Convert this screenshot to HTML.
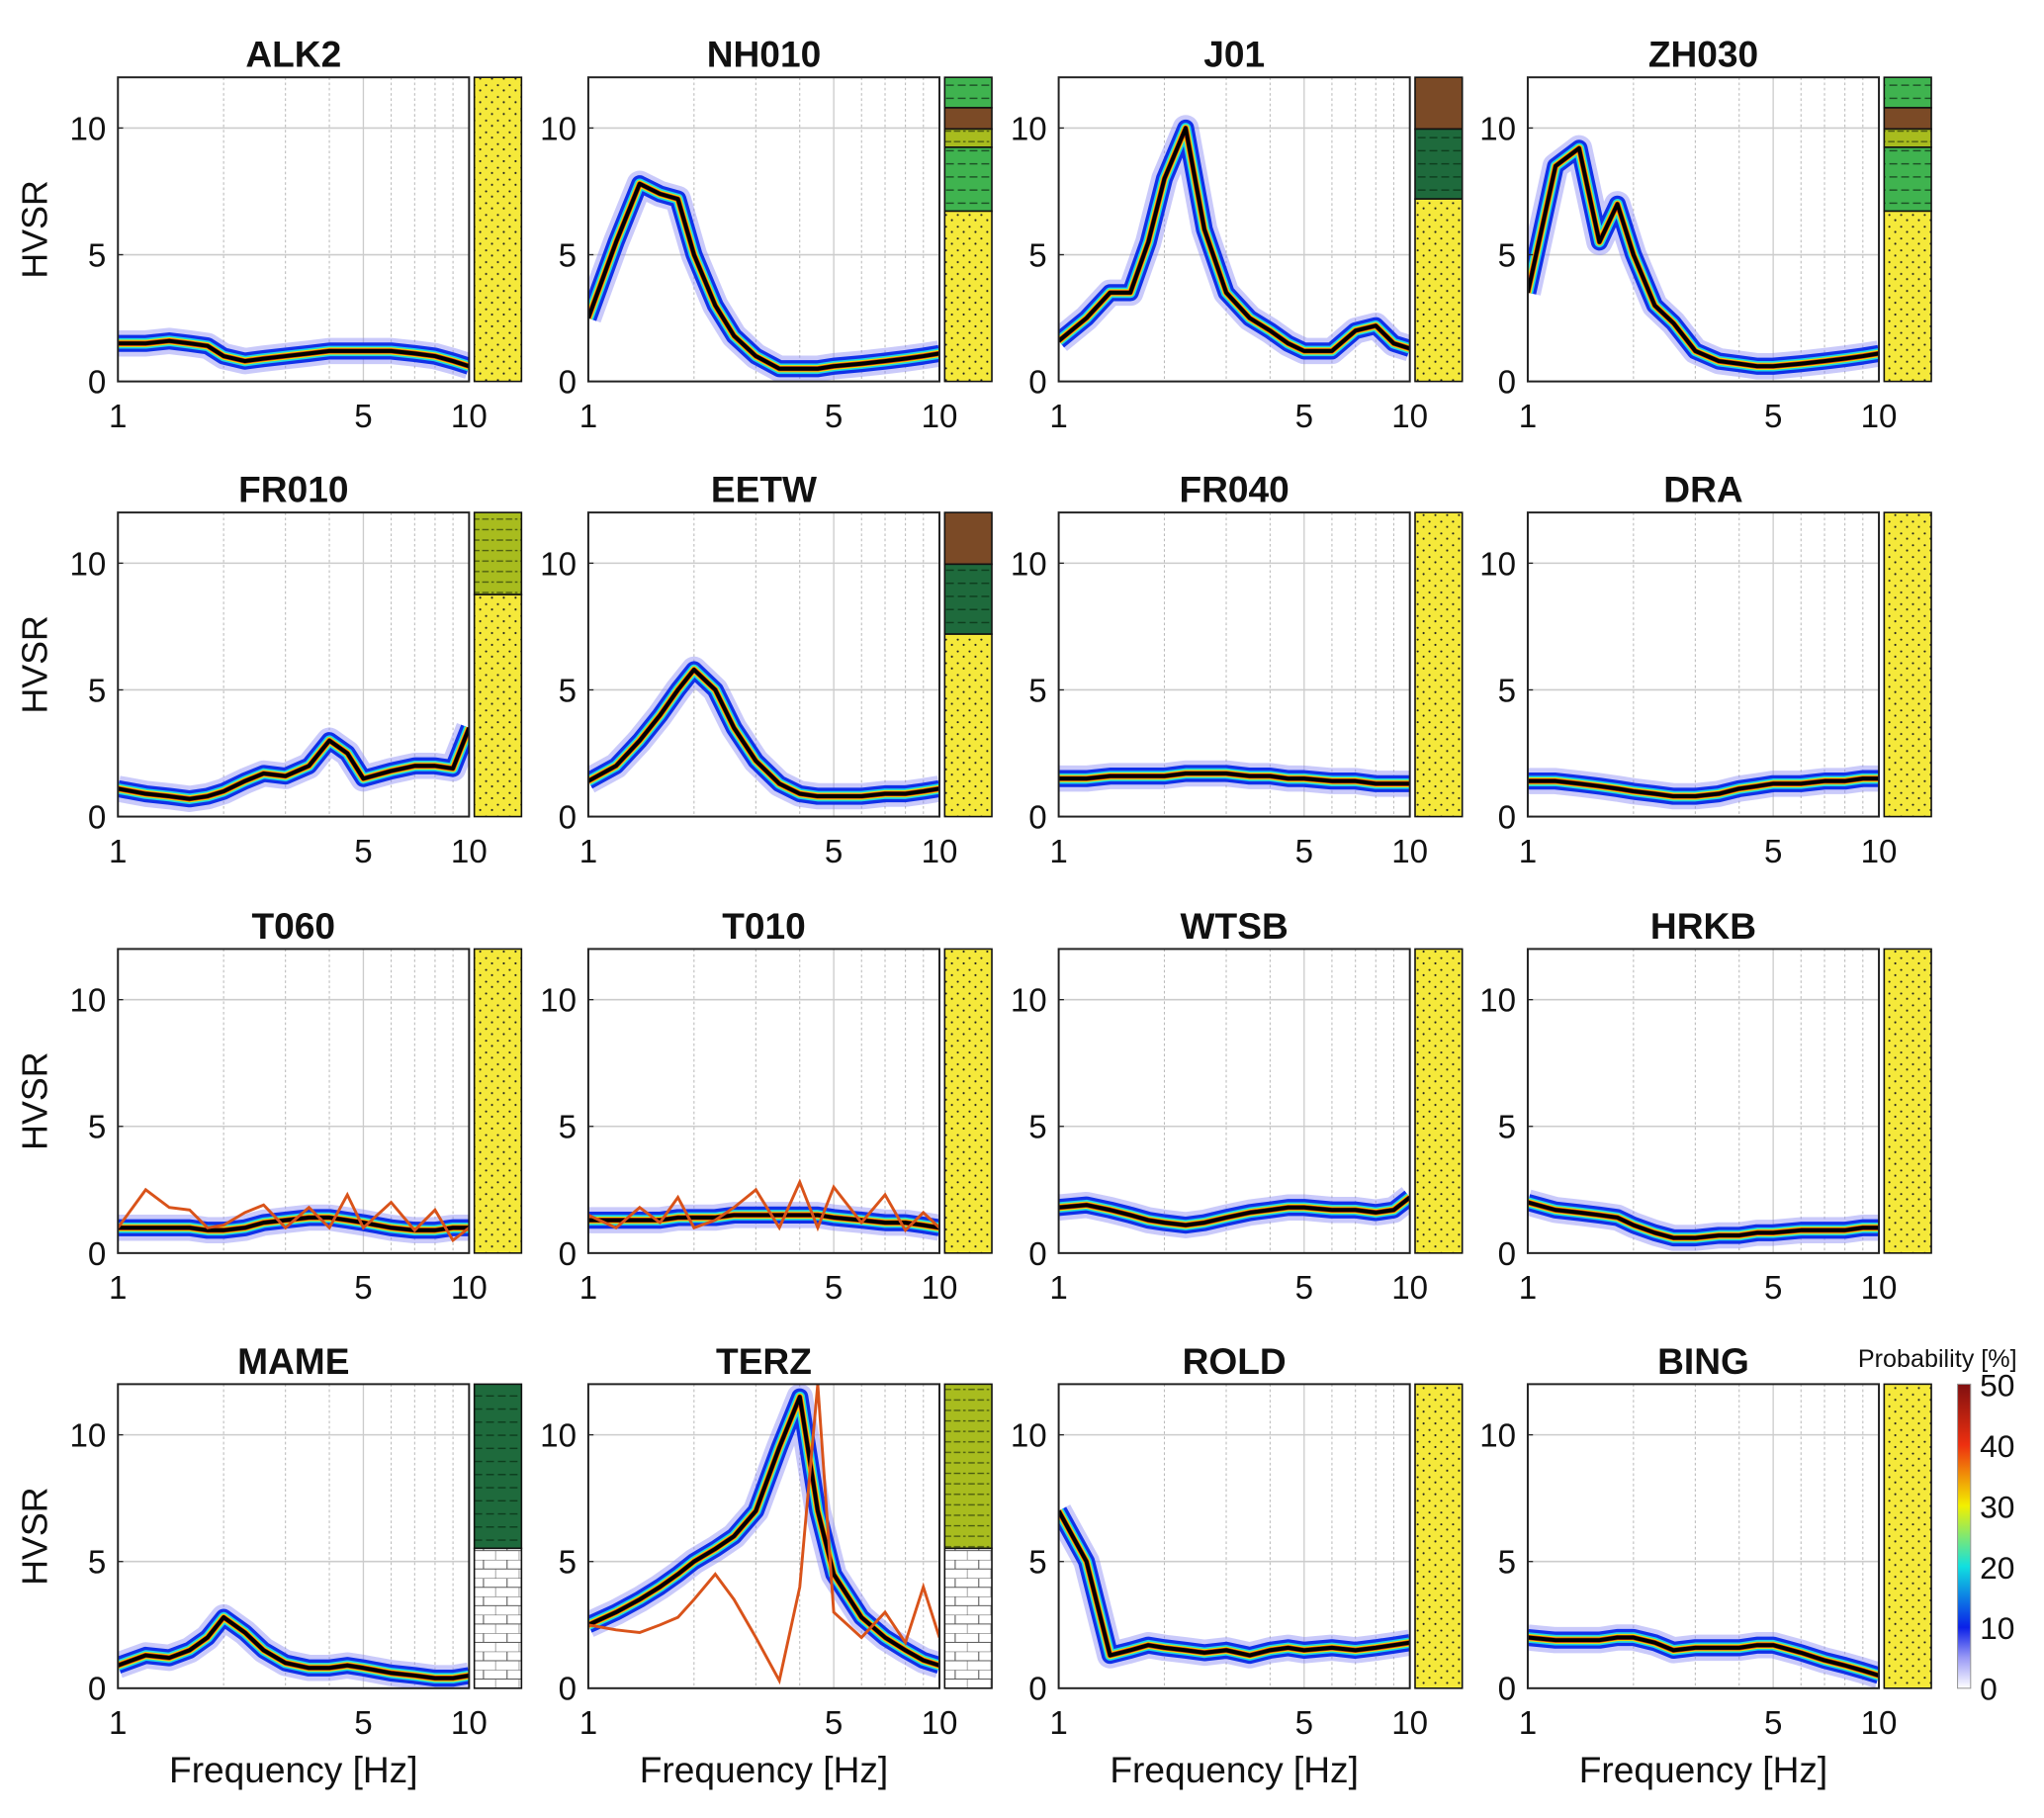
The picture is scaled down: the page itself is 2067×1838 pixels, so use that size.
<!DOCTYPE html>
<html><head><meta charset="utf-8"><style>
html,body{margin:0;padding:0;background:#fff}
svg{display:block}
text{font-family:"Liberation Sans",sans-serif;fill:#111}
</style></head><body>
<svg id="fig" width="2067" height="1838" viewBox="0 0 1560 1387" preserveAspectRatio="none" xmlns="http://www.w3.org/2000/svg">
<defs>
<pattern id="sand" width="9" height="9" patternUnits="userSpaceOnUse"><rect width="9" height="9" fill="#f5e93a"/><circle cx="2" cy="2" r="0.8" fill="#222"/><circle cx="6.5" cy="6" r="0.8" fill="#222"/></pattern>
<pattern id="clay" width="18" height="10" patternUnits="userSpaceOnUse"><rect width="18" height="10" fill="#3fb34f"/><line x1="2" y1="5" x2="8" y2="5" stroke="#1a4a22" stroke-width="1"/><line x1="11" y1="5" x2="17" y2="5" stroke="#1a4a22" stroke-width="1"/></pattern>
<pattern id="dgreen" width="18" height="10" patternUnits="userSpaceOnUse"><rect width="18" height="10" fill="#1e6a3c"/><line x1="2" y1="5" x2="8" y2="5" stroke="#0c3a1c" stroke-width="1"/><line x1="11" y1="5" x2="17" y2="5" stroke="#0c3a1c" stroke-width="1"/></pattern>
<pattern id="silt" width="18" height="8" patternUnits="userSpaceOnUse"><rect width="18" height="8" fill="#a8bc1e"/><line x1="1" y1="4" x2="17" y2="4" stroke="#4a5a10" stroke-width="1" stroke-dasharray="5,2"/></pattern>
<pattern id="peat" width="10" height="10" patternUnits="userSpaceOnUse"><rect width="10" height="10" fill="#7b4a26"/></pattern>
<pattern id="brick" width="18" height="14" patternUnits="userSpaceOnUse"><rect width="18" height="14" fill="#fff"/><line x1="0" y1="0" x2="18" y2="0" stroke="#555" stroke-width="0.8"/><line x1="0" y1="7" x2="18" y2="7" stroke="#555" stroke-width="0.8"/><line x1="9" y1="0" x2="9" y2="7" stroke="#555" stroke-width="0.8"/><line x1="0" y1="7" x2="0" y2="14" stroke="#555" stroke-width="0.8"/></pattern>
<linearGradient id="cbar" x1="0" y1="1" x2="0" y2="0">
<stop offset="0" stop-color="#ffffff"/><stop offset="0.1" stop-color="#9a9af5"/><stop offset="0.2" stop-color="#0a20e8"/><stop offset="0.4" stop-color="#10e0e0"/><stop offset="0.6" stop-color="#f2f000"/><stop offset="0.8" stop-color="#ee3010"/><stop offset="1" stop-color="#801010"/>
</linearGradient>
</defs>
</svg>
<script>
const freqs = [1,1.2,1.4,1.6,1.8,2,2.3,2.6,3,3.5,4,4.5,5,6,7,8,9,10];
const names = ["ALK2","NH010","J01","ZH030","FR010","EETW","FR040","DRA","T060","T010","WTSB","HRKB","MAME","TERZ","ROLD","BING"];
const medALK2 = [1.5,1.5,1.6,1.5,1.4,1.0,0.8,0.9,1.0,1.1,1.2,1.2,1.2,1.2,1.1,1.0,0.8,0.6];
const medNH010 = [2.5,5.5,7.8,7.4,7.2,5.0,3.0,1.8,1.0,0.5,0.5,0.5,0.6,0.7,0.8,0.9,1.0,1.1];
const medJ01 = [1.6,2.5,3.5,3.5,5.5,8.0,10.0,6.0,3.5,2.5,2.0,1.5,1.2,1.2,2.0,2.2,1.5,1.3];
const medZH030 = [3.5,8.5,9.2,5.5,7.0,5.0,3.0,2.3,1.2,0.8,0.7,0.6,0.6,0.7,0.8,0.9,1.0,1.1];
const medFR010 = [1.1,0.9,0.8,0.7,0.8,1.0,1.4,1.7,1.6,2.0,3.0,2.5,1.5,1.8,2.0,2.0,1.9,3.5];
const medEETW = [1.4,2.0,3.0,4.0,5.0,5.8,5.0,3.5,2.2,1.3,0.9,0.8,0.8,0.8,0.9,0.9,1.0,1.1];
const medFR040 = [1.5,1.5,1.6,1.6,1.6,1.6,1.7,1.7,1.7,1.6,1.6,1.5,1.5,1.4,1.4,1.3,1.3,1.3];
const medDRA = [1.4,1.4,1.3,1.2,1.1,1.0,0.9,0.8,0.8,0.9,1.1,1.2,1.3,1.3,1.4,1.4,1.5,1.5];
const medT060 = [1.0,1.0,1.0,1.0,0.9,0.9,1.0,1.2,1.3,1.4,1.4,1.3,1.2,1.0,0.9,0.9,1.0,1.0];
const medT010 = [1.3,1.3,1.3,1.3,1.4,1.4,1.4,1.5,1.5,1.5,1.5,1.5,1.4,1.3,1.2,1.2,1.1,1.0];
const medWTSB = [1.8,1.9,1.7,1.5,1.3,1.2,1.1,1.2,1.4,1.6,1.7,1.8,1.8,1.7,1.7,1.6,1.7,2.2];
const medHRKB = [2.0,1.7,1.6,1.5,1.4,1.1,0.8,0.6,0.6,0.7,0.7,0.8,0.8,0.9,0.9,0.9,1.0,1.0];
const medMAME = [0.9,1.3,1.2,1.5,2.0,2.8,2.2,1.5,1.0,0.8,0.8,0.9,0.8,0.6,0.5,0.4,0.4,0.5];
const medTERZ = [2.5,3.0,3.5,4.0,4.5,5.0,5.5,6.0,7.0,9.5,11.5,7.0,4.5,2.8,2.0,1.5,1.1,0.9];
const medROLD = [7.0,5.0,1.3,1.5,1.7,1.6,1.5,1.4,1.5,1.3,1.5,1.6,1.5,1.6,1.5,1.6,1.7,1.8];
const medBING = [2.0,1.9,1.9,1.9,2.0,2.0,1.8,1.5,1.6,1.6,1.6,1.7,1.7,1.4,1.1,0.9,0.7,0.5];
const redT060 = [1.0,2.5,1.8,1.7,1.0,1.1,1.6,1.9,1.0,1.8,1.0,2.3,1.0,2.0,0.9,1.7,0.5,1.0];
const redT010 = [1.5,1.0,1.8,1.2,2.2,1.0,1.3,1.8,2.5,1.0,2.8,1.0,2.6,1.2,2.3,0.9,1.6,1.0];
const redTERZ = [2.5,2.3,2.2,2.5,2.8,3.5,4.5,3.5,2.0,0.3,4.0,12.0,3.0,2.0,3.0,1.8,4.0,2.0];
const medians = [medALK2,medNH010,medJ01,medZH030,medFR010,medEETW,medFR040,medDRA,medT060,medT010,medWTSB,medHRKB,medMAME,medTERZ,medROLD,medBING];
const reds = {8:redT060, 9:redT010, 13:redTERZ};
// soil layers: [type, topFraction, bottomFraction]
const soils = [
 [["sand",0,1]],
 [["clay",0,0.1],["peat",0.1,0.17],["silt",0.17,0.23],["clay",0.23,0.44],["sand",0.44,1]],
 [["peat",0,0.17],["dgreen",0.17,0.4],["sand",0.4,1]],
 [["clay",0,0.1],["peat",0.1,0.17],["silt",0.17,0.23],["clay",0.23,0.44],["sand",0.44,1]],
 [["silt",0,0.27],["sand",0.27,1]],
 [["peat",0,0.17],["dgreen",0.17,0.4],["sand",0.4,1]],
 [["sand",0,1]],[["sand",0,1]],[["sand",0,1]],[["sand",0,1]],[["sand",0,1]],[["sand",0,1]],
 [["dgreen",0,0.54],["brick",0.54,1]],
 [["silt",0,0.54],["brick",0.54,1]],
 [["sand",0,1]],[["sand",0,1]]
];
const yTicks = [0,5,10];
const xTicks = [1,5,10];
const cbTicks = [0,10,20,30,40,50];

const NS="http://www.w3.org/2000/svg";
const svg=document.getElementById('fig');
function el(tag,attrs,parent){const e=document.createElementNS(NS,tag);for(const k in attrs)e.setAttribute(k,attrs[k]);(parent||svg).appendChild(e);return e;}
const colL=[90,449,808,1166], rowT=[59,391,724,1056], W=268, H=232, YMAX=12;

names.forEach((nm,i)=>{
  const L=colL[i%4], T=rowT[Math.floor(i/4)], B=T+H;
  const g=el('g',{});
  
  
  const xs=f=>L+Math.log10(f)*W, ys=v=>B-v/YMAX*H;
  el('rect',{x:L,y:T,width:W,height:H,fill:'#fff'},g);
  [2,3,4,6,7,8,9].forEach(f=>el('line',{x1:xs(f),x2:xs(f),y1:T,y2:B,stroke:'#bbb','stroke-width':0.8,'stroke-dasharray':'2,2'},g));
  el('line',{x1:xs(5),x2:xs(5),y1:T,y2:B,stroke:'#ccc','stroke-width':1},g);
  [5,10].forEach(v=>el('line',{x1:L,x2:L+W,y1:ys(v),y2:ys(v),stroke:'#ccc','stroke-width':1.2},g));
  const cid='clip'+i;
  const cp=el('clipPath',{id:cid},g); el('rect',{x:L,y:T,width:W,height:H},cp);
  const d=medians[i].map((v,k)=>(k?'L':'M')+xs(freqs[k]).toFixed(1)+','+ys(v).toFixed(1)).join('');
  const band=el('g',{'clip-path':'url(#'+cid+')'},g);
  
  
  [['#8a8af5',20,0.45],['#1030e8',13,1],['#20d8e0',8,1],['#f0e000',5.5,1],['#e03a10',4,1],['#000',3,1]].forEach(s=>{
    el('path',{d:d,fill:'none',stroke:s[0],'stroke-width':s[1],opacity:s[2],'stroke-linejoin':'round'},band);
  });
  if(reds[i]){
    const dr=reds[i].map((v,k)=>(k?'L':'M')+xs(freqs[k]).toFixed(1)+','+ys(v).toFixed(1)).join('');
    const rp=el('path',{d:dr,fill:'none',stroke:'#d9531a','stroke-width':2.2,'clip-path':'url(#'+cid+')'},g);
    
    
  }
  el('rect',{x:L,y:T,width:W,height:H,fill:'none',stroke:'#222','stroke-width':1.5},g);
  yTicks.forEach(v=>{
    el('line',{x1:L,x2:L+4,y1:ys(v),y2:ys(v),stroke:'#222'},g);
    const t=el('text',{x:L-9,y:ys(v)+9,'text-anchor':'end','font-size':25},g);t.textContent=v;
  });
  xTicks.forEach(f=>{
    const t=el('text',{x:xs(f),y:B+35,'text-anchor':'middle','font-size':25},g);t.textContent=f;
  });
  const tt=el('text',{x:L+W/2,y:T-8,'text-anchor':'middle','font-size':28,'font-weight':'bold'},g);tt.textContent=nm;
  
  
  const sg=el('g',{},g);
  
  
  soils[i].forEach(ly=>{
    el('rect',{x:L+W+4,y:T+ly[1]*H,width:36,height:(ly[2]-ly[1])*H,fill:'url(#'+ly[0]+')',stroke:'#111','stroke-width':1.2},sg);
  });
  if(i%4===0){
    const yl=el('text',{x:0,y:0,'font-size':27,'text-anchor':'middle',transform:'translate(36,'+(T+H/2)+') rotate(-90)'},g);yl.textContent='HVSR';
    
    
  }
  if(i>=12){
    const xl=el('text',{x:L+W/2,y:1360,'font-size':28,'text-anchor':'middle'},g);xl.textContent='Frequency [Hz]';
    
    
  }
});
// colorbar
const cb=el('g',{});


const CT=1056,CB=1288;
el('rect',{x:1494,y:CT,width:10,height:CB-CT,fill:'url(#cbar)',stroke:'#999','stroke-width':0.8},cb);
cbTicks.forEach(v=>{const t=el('text',{x:1511,y:CB-v/50*(CB-CT)+9,'font-size':24},cb);t.textContent=v;});
const ct=el('text',{x:1418,y:1043,'font-size':19},cb);ct.textContent='Probability [%]';


</script>
</body></html>
